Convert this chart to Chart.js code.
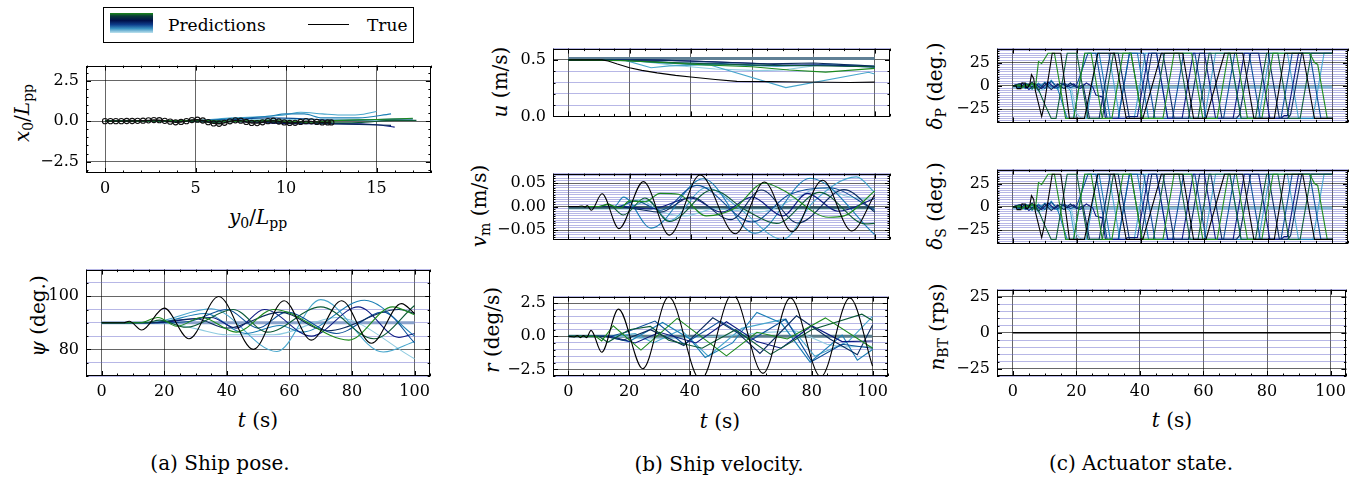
<!DOCTYPE html>
<html>
<head>
<meta charset="utf-8">
<script src="https://cdn.jsdelivr.net/npm/chart.js@4.4.1/dist/chart.umd.min.js"></script>
<style>
  body { margin: 0; background: #fff; width: 1368px; height: 481px; position: relative; overflow: hidden; font-family: 'DejaVu Serif', serif; color: #000; }
  canvas { position: absolute; }
  .lab { position: absolute; white-space: nowrap; font-size: 20px; line-height: 1; transform: translate(-50%, -50%); }
  .rot { transform: translate(-50%, -50%) rotate(-90deg); }
  .cap { position: absolute; white-space: nowrap; font-size: 20px; line-height: 1; transform: translate(-50%, -50%); }
  sub { font-size: 70%; vertical-align: -0.3em; line-height: 0; }
  #legend { position: absolute; left: 103px; top: 7px; width: 309px; height: 34px; border: 1.2px solid #000; font-size: 17px; }
  #sw { position: absolute; left: 6px; top: 5px; width: 43px; height: 20px;
        background: linear-gradient(to bottom, #1a8a1a 0%, #0a3a3a 15%, #00104a 38%, #0d3c8a 58%, #3a92c2 78%, #bfe3ee 100%); }
</style>
</head>
<body>
<div id="legend">
  <div id="sw"></div>
  <span style="position:absolute;left:64px;top:7px;">Predictions</span>
  <div style="position:absolute;left:204px;top:16px;width:41px;height:1px;background:#000;"></div>
  <span style="position:absolute;left:263px;top:7px;">True</span>
</div>

<div class="lab rot" style="left:22px;top:113px;"><i>x</i><sub>0</sub>/<i>L</i><sub>pp</sub></div>
<div class="lab" style="left:258px;top:217px;"><i>y</i><sub>0</sub>/<i>L</i><sub>pp</sub></div>
<div class="lab rot" style="left:38px;top:316px;"><i>ψ</i> (deg.)</div>
<div class="lab" style="left:258px;top:420px;"><i>t</i> (s)</div>
<div class="cap" style="left:220px;top:463px;">(a) Ship pose.</div>

<div class="lab rot" style="left:500px;top:82px;"><i>u</i> (m/s)</div>
<div class="lab rot" style="left:479px;top:206px;"><i>v</i><sub>m</sub> (m/s)</div>
<div class="lab rot" style="left:492px;top:330px;"><i>r</i> (deg/s)</div>
<div class="lab" style="left:720px;top:421px;"><i>t</i> (s)</div>
<div class="cap" style="left:719px;top:464px;">(b) Ship velocity.</div>

<div class="lab rot" style="left:935px;top:86px;"><i>δ</i><sub>P</sub> (deg.)</div>
<div class="lab rot" style="left:935px;top:206px;"><i>δ</i><sub>S</sub> (deg.)</div>
<div class="lab rot" style="left:937px;top:327px;"><i>n</i><sub>BT</sub> (rps)</div>
<div class="lab" style="left:1172px;top:420px;"><i>t</i> (s)</div>
<div class="cap" style="left:1141px;top:463px;">(c) Actuator state.</div>

<script>
// ---- data: [x, y] pairs ----
const PRED = ['#1d8a1d', '#0c5a36', '#0a2a5c', '#0c1a80', '#0b4f96', '#1c7fb5', '#48a6cc', '#8fcbe0'];
const T_TICKS = [0, 20, 40, 60, 80, 100];

// (a) trajectory: y0/Lpp vs x0/Lpp
const trajTrue = [[0,0],[0.3,0],[0.6,0],[0.9,0],[1.2,0.01],[1.5,0.01],[1.8,0.02],[2.1,0.03],[2.4,0.05],[2.7,0.07],[3.0,0.06],[3.3,0.02],[3.6,-0.03],[3.9,-0.07],[4.2,-0.05],[4.5,0.0],[4.8,0.07],[5.1,0.09],[5.4,0.04],[5.7,-0.06],[6.0,-0.14],[6.3,-0.16],[6.6,-0.1],[6.9,-0.01],[7.2,0.05],[7.5,0.03],[7.8,-0.05],[8.1,-0.11],[8.4,-0.12],[8.7,-0.07],[9.0,0.0],[9.3,0.03],[9.6,-0.02],[9.9,-0.08],[10.2,-0.11],[10.5,-0.1],[10.8,-0.05],[11.1,0.0],[11.4,-0.01],[11.7,-0.05],[12.0,-0.08],[12.3,-0.08],[12.5,-0.08]];
const trajPred = [
  [[0,0],[3,0.02],[5,0.05],[7,0.0],[9,0.05],[11,-0.05],[13,0.05],[15,0.1],[17,0.18]],
  [[0,0],[4,0.01],[6,-0.08],[8,0.02],[10,-0.05],[12,-0.1],[14,-0.08],[16,0.05],[17.2,0.05]],
  [[0,0],[5,0.03],[7,-0.02],[10,-0.1],[12,-0.15],[14,-0.2],[15.8,-0.26]],
  [[0,0],[5,0.0],[8,-0.05],[10,-0.15],[13,-0.15],[15,-0.22],[16,-0.37]],
  [[0,0],[5,0.02],[7,0.1],[9,0.2],[11,0.15],[13,0.05],[15,0.1],[17,0.15]],
  [[0,0],[5,0.03],[7,0.15],[9,0.3],[10,0.45],[11,0.45],[12,0.2],[14,0.2],[15.8,0.45]],
  [[0,0],[5,0.05],[7,0.2],[9,0.3],[10,0.4],[10.8,0.55],[12,0.45],[13,0.38],[14,0.4],[15,0.6]],
  [[0,0],[6,0.05],[9,0.1],[12,0.1],[15,0.05],[17,0.1]]
];

// (a) heading psi (deg.)
const psiTrue = [[0,90],[7,90],[8.8,90.6],[12.8,87.3],[20,95.5],[27.9,84],[37.4,99.9],[48.5,80],[58.3,98.3],[67,83.5],[76.7,98.3],[86.2,82.3],[95.8,97.2],[100,93.5]];
const psiPred = [
  [[0,90],[12,90],[18,92],[24,88.7],[32,92],[43,86.5],[55,95],[79,83.5],[93,96],[100,93]],
  [[0,90],[14,90],[18.5,91],[27,88.3],[42,95],[53,86.5],[70,96],[87,84],[100,96.5]],
  [[0,90],[15,90],[30,91.5],[40,88],[57,94],[72,87],[95,95],[100,93.5]],
  [[0,90],[16,90],[35,92],[43,88],[52,95],[67,85],[82,96],[95,84.5],[100,86]],
  [[0,90],[18,90],[28,90.5],[40,95],[50,88],[59,94],[75,86],[90,94],[100,82.5]],
  [[0,90],[17,90],[33,93.5],[46,86],[57,89],[64,86.5],[84,98.5],[100,85]],
  [[0,90],[15,90],[35,95.3],[56,79.2],[70,98.7],[90,79],[100,83]],
  [[0,90],[20,90],[30,87.8],[40,85.5],[55,85.5],[75,92],[100,76.5]]
];
const psiFlat = [[0,90],[100,90]];

// (b) surge u (m/s)
const uTrue = [[0,0.5],[11,0.5],[13,0.49],[16,0.463],[20,0.43],[24,0.407],[29,0.385],[35,0.363],[40,0.348],[48,0.327],[55,0.31],[65,0.308],[76,0.305],[92,0.3],[100,0.303]];
const uPred = [
  [[0,0.5],[17,0.495],[35,0.47],[45,0.455],[60,0.44],[72,0.41],[84,0.392],[100,0.425]],
  [[0,0.5],[20,0.492],[40,0.47],[60,0.455],[80,0.448],[100,0.44]],
  [[0,0.5],[25,0.5],[40,0.49],[55,0.475],[65,0.465],[80,0.472],[100,0.445]],
  [[0,0.5],[30,0.498],[45,0.485],[60,0.47],[70,0.455],[85,0.455],[100,0.44]],
  [[0,0.5],[22,0.495],[35,0.475],[50,0.468],[65,0.45],[82,0.455],[100,0.435]],
  [[0,0.5],[19,0.495],[27,0.48],[40,0.46],[55,0.455],[68,0.445],[85,0.455],[100,0.44]],
  [[0,0.5],[18,0.5],[27,0.43],[33,0.447],[46,0.457],[71,0.255],[98,0.39],[100,0.375]],
  [[0,0.5],[20,0.5],[35,0.45],[48,0.42],[62,0.405],[70,0.41],[85,0.465],[100,0.445]]
];
const uFlat = [[0,0.512],[100,0.512]];

// (b) sway v_m (m/s)
const vTrue = [[0,0],[3,0],[4.5,0.001],[5.5,-0.001],[6.2,0.002],[7.5,-0.008],[11,0.027],[16.5,-0.047],[24.5,0.053],[33,-0.061],[43,0.067],[54.5,-0.058],[64,0.052],[73,-0.054],[83,0.056],[92.5,-0.052],[100,0.025]];
const vPred = [
  [[0,0],[10,0],[13,0.004],[17,-0.003],[20,0.012],[25,0.01],[30,0.028],[36,0.026],[45,-0.02],[54,-0.005],[64,0.05],[70,0.035],[85,-0.023],[90,-0.02],[100,0.033]],
  [[0,0],[10,0],[13,0.005],[18,-0.018],[25,0.018],[33,-0.032],[47,0.035],[58,-0.008],[68,-0.036],[82,0.03],[97,-0.037],[100,-0.036]],
  [[0,0],[15,0],[22,-0.005],[30,-0.012],[40,0.02],[53,-0.028],[63,0.035],[75,-0.035],[90,0.036],[100,-0.012]],
  [[0,0],[18,0],[27,-0.005],[40,0.018],[50,-0.012],[60,0.02],[70,-0.02],[78,0.028],[88,-0.01],[100,0.017]],
  [[0,0],[16,0],[22,0.012],[30,-0.008],[42,0.045],[60,-0.033],[72,0.025],[85,0.04],[100,-0.008]],
  [[0,0],[15,0],[18,0.02],[27,-0.046],[44,0.059],[61,-0.057],[79,0.06],[100,-0.06]],
  [[0,0],[20,0],[26,0.012],[33,-0.03],[45,0.04],[56,-0.005],[70,-0.07],[80,0.01],[94,0.063],[100,0.03]],
  [[0,0],[17,0],[23,0.015],[30,-0.01],[38,-0.02],[48,-0.005],[62,-0.012],[75,0.02],[82,0.04],[92,0.02],[100,0.015]]
];
const vFlat = [[0,-0.002],[100,-0.002]];
const vFlat2 = [[0,-0.0045],[100,-0.0045]];

// (b) yaw rate r (deg/s)
const rTrue = [[0,0],[2,-0.05],[3,0.05],[4,-0.1],[5,0.05],[6,-0.1],[7.5,0.45],[11,-1.2],[16.5,2.05],[24.5,-2.45],[33,2.98],[43.5,-3.3],[54,3.2],[64,-2.8],[73,2.9],[83,-3.05],[92.5,2.9],[100,-2.25]];
const rPred = [
  [[0,0],[9,0],[11,-0.35],[14.8,0.8],[23.9,-1.04],[35.8,1.35],[52,-1.48],[62,0.3],[72,-0.2],[84.5,1.39],[100,-0.9]],
  [[0,0],[10,0],[13,-0.45],[20,0.5],[27,0.75],[33,-0.3],[44,-0.9],[55,0.5],[66.5,-1.37],[80,0.5],[96.5,1.67],[100,1.2]],
  [[0,0],[12,0],[18,-0.3],[27,0.5],[38,-0.7],[47.5,1.4],[56,0.2],[63,-1.3],[75,1.55],[86,-0.2],[95,-1.4],[100,0.85]],
  [[0,0],[14,0],[22,-0.5],[30,0.3],[42,-0.5],[52,1.1],[62,-0.4],[70,-0.9],[80,0.8],[90,-0.4],[100,-0.35]],
  [[0,0],[14,0],[19,0.3],[28.5,1.15],[38,-0.6],[50,1.15],[60,-0.3],[71.5,1.3],[80,-1.9],[90,-0.6],[100,-0.9]],
  [[0,0],[12,0],[20,-0.4],[31,1.05],[40,-0.2],[45,-1.6],[54,-0.5],[62,1.8],[70,1.0],[79.5,-1.95],[90,0.1],[95,-1.8],[100,-1.0]],
  [[0,0],[15,0],[22,0.2],[28,-0.5],[37,0.5],[46,-1.5],[57,0.6],[71,1.3],[81,-1.5],[92,-0.4],[100,1.5]],
  [[0,0],[18,0],[25,-0.2],[35,-0.15],[45,-0.05],[55,0.1],[65,0.3],[75,0.4],[85,-0.6],[90,-0.8],[100,-0.75]]
];
const rFlat = [[0,0],[100,0]];

// (c) rudder angles (deg.); port and starboard coincide
const dTrue = [[0,0],[1,0],[1.3,-3],[2.5,-3],[2.8,3],[3.8,3],[4.1,-2],[4.6,-2],[5.3,2],[5.8,12],[6.5,8],[7,-5],[9,-33],[9.7,-22],[12.3,35],[15,35],[17.7,-35],[22.4,-35],[26.6,35],[31.8,35],[35.5,-35],[40.7,-35],[46.5,35],[53.2,35],[56.6,-35],[60.5,-35],[66.3,35],[72,35],[75.5,-35],[81.9,-35],[85.2,35],[90.8,35],[94.5,-35],[100,-35]];
const dPred = [
  [[0,0],[2,1],[3,-2],[4,2],[5,-1],[6,3],[7,-3],[8,26],[9,24],[11,35],[13,35],[16.5,-35],[19,-35],[22.5,35],[24.5,35],[28,-35],[31,-35],[34.5,35],[37,35],[40.5,-35],[47,-35],[50.5,35],[56,35],[59.5,-35],[64,-35],[67.5,35],[70,35],[73.5,-35],[78,-35],[81.5,35],[93,35],[94.5,25],[95.5,23],[98.5,-35],[100,-35]],
  [[0,0],[3,-1],[5,2],[6,-3],[7,1],[8,-4],[10,-20],[12,-35],[13.5,-35],[17,35],[20,35],[23.5,-35],[28,-35],[31.5,35],[37,35],[40.5,-35],[44,-35],[47.5,35],[52,35],[55.5,-35],[58,-35],[61.5,35],[68,35],[71.5,-35],[76,-35],[79.5,35],[83,35],[86.5,-35],[90,-35],[93.5,35],[100,35]],
  [[0,0],[2,2],[4,-2],[6,4],[8,-5],[10,3],[12,-4],[14,2],[16,-3],[18,3],[20,-2],[22,1],[24,-35],[27,-35],[30.5,35],[33,35],[36.5,-35],[40,-35],[43.5,35],[47,35],[50.5,-35],[55,-35],[58.5,35],[62,35],[65.5,-35],[70,-35],[71,-31],[74.5,35],[80,35],[83.5,-35],[86,-35],[87,-31],[90.5,35],[100,35]],
  [[0,0],[3,3],[5,-4],[7,2],[9,-3],[11,4],[13,-2],[15,3],[17,-1],[19,2],[21,-3],[23,3],[25,-1],[26,-10],[28,-12],[29,-35],[35,-35],[36,-33],[39,-33],[42.5,35],[45,35],[48.5,-35],[53,-35],[56.5,35],[60,35],[63.5,-35],[69,-35],[72.5,35],[77,35],[80.5,-35],[84,-35],[85,-32],[86,-32],[89.5,35],[100,35]],
  [[0,0],[2,-2],[4,3],[6,-1],[8,2],[10,-3],[12,5],[14,-2],[16,3],[18,-2],[20,1],[23.5,35],[26,35],[29.5,-35],[33,-35],[36.5,35],[41,35],[44.5,-35],[50,-35],[53.5,35],[57,35],[60.5,-35],[66,-35],[69.5,35],[74,35],[77.5,-35],[84,-35],[87.5,35],[93,35],[96.5,-35],[100,-35]],
  [[0,0],[2,1],[4,-3],[6,2],[8,-2],[10,4],[12,-1],[14,-3],[17,-35],[19,-35],[22.5,35],[27,35],[30.5,-35],[33,-35],[36.5,35],[39,35],[42.5,-35],[100,-35]],
  [[0,0],[2,-1],[4,2],[6,-4],[8,3],[10,-2],[12,6],[14,-3],[16,2],[18,-5],[19.5,-35],[23,-35],[26.5,35],[30,35],[33.5,-35],[38,-35],[41.5,35],[45,35],[48.5,-35],[60,-35],[63.5,35],[68,35],[71.5,-35],[77,-35],[80.5,35],[86,35],[89.5,-35],[94,-35],[97.5,35],[100,35]],
  [[0,0],[2,2],[4,-2],[6,1],[8,-6],[10,-3],[12,5],[14,-4],[16,-1],[18,3],[20,-30],[21.5,-35],[23,-35],[26.5,35],[100,35]]
];
const dFlat = [[0,-1.3],[100,-1.3]];

// (c) bow thruster (rps)
const nTrue = [[0,0],[100,0]];

// ---- drawing ----
Chart.defaults.font.family = "'DejaVu Serif', serif";
Chart.defaults.color = '#000';

const MAJ = 'rgba(0,0,0,0.6)';
const MIN = 'rgba(95,95,200,0.45)';
const YW = 62, PR = 4, PT = 4;

const f1 = v => v.toFixed(1).replace('-', '\u2212');
const f2 = v => v.toFixed(2).replace('-', '\u2212');
const fi = v => String(Math.round(v)).replace('-', '\u2212');

function steps(min, max, step) {
  const out = [];
  const a = Math.ceil(min / step - 1e-9), b = Math.floor(max / step + 1e-9);
  for (let i = a; i <= b; i++) out.push(+(i * step).toFixed(6));
  return out;
}
const isIn = (v, arr) => arr.some(m => Math.abs(m - v) < 1e-9);

// frame + inward ticks on all four sides
const frame = {
  id: 'frame',
  afterDraw(chart, args, o) {
    const { ctx, chartArea: a, scales: { x, y } } = chart;
    ctx.save();
    ctx.strokeStyle = '#000';
    ctx.lineWidth = 1;
    ctx.strokeRect(Math.round(a.left) + 0.5, Math.round(a.top) + 0.5, Math.round(a.width) - 1, Math.round(a.height) - 1);
    ctx.beginPath();
    const xt = (v, len) => {
      const p = Math.round(x.getPixelForValue(v)) + 0.5;
      ctx.moveTo(p, a.bottom); ctx.lineTo(p, a.bottom - len);
      ctx.moveTo(p, a.top); ctx.lineTo(p, a.top + len);
    };
    const yt = (v, len) => {
      const p = Math.round(y.getPixelForValue(v)) + 0.5;
      ctx.moveTo(a.left, p); ctx.lineTo(a.left + len, p);
      ctx.moveTo(a.right, p); ctx.lineTo(a.right - len, p);
    };
    o.xMinor.forEach(v => xt(v, 2.5));
    o.xMajor.forEach(v => xt(v, 5));
    o.yMinor.forEach(v => yt(v, 2.5));
    o.yMajor.forEach(v => yt(v, 5));
    ctx.stroke();
    ctx.restore();
  }
};

function line(d, c, extra) {
  return Object.assign({ d, c, w: 1.1, smooth: true }, extra || {});
}
function preds(list, extra) {
  return list.map((d, i) => line(d, PRED[i], extra));
}

function panel(box, ax, sets) {
  const c = document.createElement('canvas');
  const xh = ax.xLabels ? 28 : 4;
  c.width = box.R - box.L + YW + PR;
  c.height = box.B - box.T + PT + xh;
  c.style.left = (box.L - YW) + 'px';
  c.style.top = (box.T - PT) + 'px';
  document.body.appendChild(c);

  const xMinor = steps(ax.x[0], ax.x[1], ax.xStep).filter(v => !isIn(v, ax.xMajor));
  const yMinor = steps(ax.y[0], ax.y[1], ax.yStep).filter(v => !isIn(v, ax.yMajor));
  const yTicks = ax.yMajor.map(v => ({ value: v, major: true }))
    .concat((ax.yGrid ? yMinor : []).map(v => ({ value: v, major: false })))
    .sort((p, q) => p.value - q.value);

  new Chart(c, {
    type: 'line',
    data: {
      datasets: sets.map(s => ({
        data: s.d.map(([x, y]) => ({ x, y })),
        borderColor: s.c,
        borderWidth: s.w,
        pointRadius: s.r || 0,
        pointBorderColor: s.c,
        pointBackgroundColor: 'rgba(0,0,0,0)',
        pointBorderWidth: s.pw || 0.8,
        cubicInterpolationMode: s.smooth ? 'monotone' : 'default',
        tension: 0,
        fill: false
      }))
    },
    options: {
      responsive: false,
      animation: false,
      events: [],
      layout: { padding: { top: PT, right: PR, left: 0, bottom: 0 } },
      plugins: {
        legend: { display: false },
        tooltip: { enabled: false },
        frame: { xMinor, yMinor, xMajor: ax.xMajor, yMajor: ax.yMajor }
      },
      scales: {
        x: {
          type: 'linear', bounds: 'data', min: ax.x[0], max: ax.x[1],
          afterBuildTicks: s => { s.ticks = ax.xMajor.map(v => ({ value: v, major: true })); },
          afterFit: s => { s.height = xh; },
          grid: { color: MAJ, lineWidth: 1, drawTicks: false },
          border: { display: false },
          ticks: { display: !!ax.xLabels, autoSkip: false, maxRotation: 0, padding: 6, font: { size: 16 }, callback: v => ax.xFmt(v) }
        },
        y: {
          type: 'linear', bounds: 'data', min: ax.y[0], max: ax.y[1],
          afterBuildTicks: s => { s.ticks = yTicks.map(t => Object.assign({}, t)); },
          afterFit: s => { s.width = YW; },
          grid: { color: g => (g.tick && g.tick.major) ? MAJ : MIN, lineWidth: 1, drawTicks: false },
          border: { display: false },
          ticks: { autoSkip: false, padding: 7, font: { size: 16 }, callback: (v, i, t) => (t[i] && t[i].major) ? ax.yFmt(v) : '' }
        }
      }
    },
    plugins: [frame]
  });
}

const tAxis = { x: [-5, 105], xMajor: T_TICKS, xStep: 5, xFmt: fi };

// (a) pose
panel({ L: 86, R: 432, T: 53, B: 173 },
  { x: [-1.05, 18], xMajor: [0, 5, 10, 15], xStep: 1, xFmt: fi, xLabels: true,
    y: [-3.2, 3.43], yMajor: [-2.5, 0, 2.5], yStep: 0.5, yGrid: false, yFmt: f1 },
  [line(trajTrue, '#111', { r: 2.6, w: 1.4, pw: 1.1 })].concat(preds(trajPred)));

panel({ L: 86, R: 432, T: 257, B: 376 },
  Object.assign({}, tAxis, { xLabels: true, y: [70, 110], yMajor: [80, 100], yStep: 5, yGrid: true, yFmt: fi }),
  [line(psiTrue, '#000')].concat(preds(psiPred), [line(psiFlat, '#8aa2cc', { w: 3 })]));

// (b) velocity
panel({ L: 553, R: 890, T: 36, B: 129 },
  Object.assign({}, tAxis, { y: [0, 0.6], yMajor: [0, 0.5], yStep: 0.1, yGrid: true, yFmt: f1 }),
  [line(uTrue, '#000', { smooth: false })].concat(preds(uPred, { smooth: false }), [line(uFlat, '#5f8096', { w: 3 })]));

panel({ L: 553, R: 890, T: 161, B: 252 },
  Object.assign({}, tAxis, { y: [-0.07, 0.07], yMajor: [-0.05, 0, 0.05], yStep: 0.005, yGrid: true, yFmt: f2 }),
  [line(vTrue, '#000')].concat(preds(vPred), [line(vFlat, '#2f5563', { w: 2.5 }), line(vFlat2, '#8cc2d4', { w: 2 })]));

panel({ L: 553, R: 890, T: 284, B: 376 },
  Object.assign({}, tAxis, { xLabels: true, y: [-3, 3], yMajor: [-2.5, 0, 2.5], yStep: 0.5, yGrid: true, yFmt: f1 }),
  [line(rTrue, '#000')].concat(preds(rPred, { smooth: false }), [line(rFlat, '#5a7d8c', { w: 3 })]));

// (c) actuators
const dAxis = Object.assign({}, tAxis, { y: [-39.3, 40], yMajor: [-25, 0, 25], yStep: 2.5, yGrid: true, yFmt: fi });
const dSets = [line(dTrue, '#000', { smooth: false })].concat(preds(dPred, { smooth: false }), [line(dFlat, '#86bad6', { w: 3 })]);
panel({ L: 997, R: 1348, T: 36, B: 135 }, dAxis, dSets);
panel({ L: 997, R: 1348, T: 157, B: 256 }, dAxis, dSets);

panel({ L: 997, R: 1348, T: 277, B: 376 },
  Object.assign({}, tAxis, { xLabels: true, y: [-30, 30], yMajor: [-25, 0, 25], yStep: 5, yGrid: true, yFmt: fi }),
  [line(nTrue, '#000', { w: 1.6 })]);
</script>
</body>
</html>
